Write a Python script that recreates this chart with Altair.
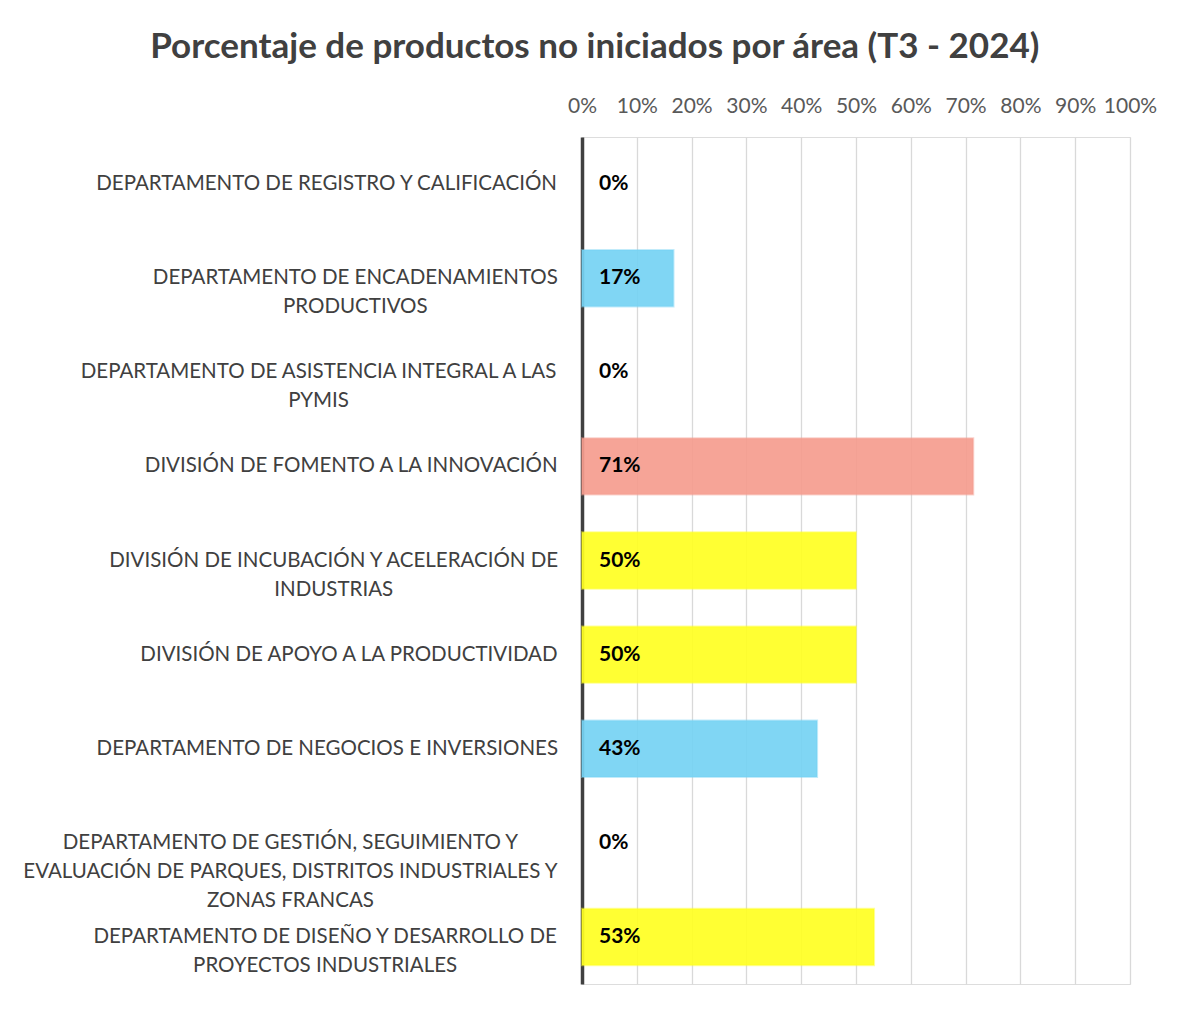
import glob
import os
import struct
import subprocess

import altair as alt
import pandas as pd

# ---- data ----
areas = [
    "DEPARTAMENTO DE REGISTRO Y CALIFICACIÓN",
    "DEPARTAMENTO DE ENCADENAMIENTOS PRODUCTIVOS",
    "DEPARTAMENTO DE ASISTENCIA INTEGRAL A LAS PYMIS",
    "DIVISIÓN DE FOMENTO A LA INNOVACIÓN",
    "DIVISIÓN DE INCUBACIÓN Y ACELERACIÓN DE INDUSTRIAS",
    "DIVISIÓN DE APOYO A LA PRODUCTIVIDAD",
    "DEPARTAMENTO DE NEGOCIOS E INVERSIONES",
    "DEPARTAMENTO DE GESTIÓN, SEGUIMIENTO Y EVALUACIÓN DE PARQUES, DISTRITOS INDUSTRIALES Y ZONAS FRANCAS",
    "DEPARTAMENTO DE DISEÑO Y DESARROLLO DE PROYECTOS INDUSTRIALES",
]
etiquetas = [
    ["DEPARTAMENTO DE REGISTRO Y CALIFICACIÓN"],
    ["DEPARTAMENTO DE ENCADENAMIENTOS", "PRODUCTIVOS"],
    ["DEPARTAMENTO DE ASISTENCIA INTEGRAL A LAS", "PYMIS"],
    ["DIVISIÓN DE FOMENTO A LA INNOVACIÓN"],
    ["DIVISIÓN DE INCUBACIÓN Y ACELERACIÓN DE", "INDUSTRIAS"],
    ["DIVISIÓN DE APOYO A LA PRODUCTIVIDAD"],
    ["DEPARTAMENTO DE NEGOCIOS E INVERSIONES"],
    ["DEPARTAMENTO DE GESTIÓN, SEGUIMIENTO Y",
     "EVALUACIÓN DE PARQUES, DISTRITOS INDUSTRIALES Y",
     "ZONAS FRANCAS"],
    ["DEPARTAMENTO DE DISEÑO Y DESARROLLO DE", "PROYECTOS INDUSTRIALES"],
]
valores = [0.0, 0.167, 0.0, 0.714, 0.50, 0.50, 0.429, 0.0, 0.533]
niveles = ["bajo", "bajo", "bajo", "alto", "medio", "medio", "bajo", "bajo", "medio"]

colores_nivel = {"bajo": "#75D3F3", "medio": "#FFFF22", "alto": "#F59C8E"}
ticks_x = [0, 0.1, 0.2, 0.3, 0.4, 0.5, 0.6, 0.7, 0.8, 0.9, 1.0]

# ---- layout / style ----
ANCHO = 548
ALTO = 847
FUENTE = "Lato"
FS_LABEL = 20.5
GAP = 22           # gap between category labels and the axis line


# ---- text measurement (so that multi-line labels can be centred as a block
#      and right-aligned against the axis, like the original) ----
def _parse_font(path):
    data = open(path, "rb").read()
    num_tables = struct.unpack(">H", data[4:6])[0]
    tables = {}
    for i in range(num_tables):
        off = 12 + 16 * i
        tag = data[off:off + 4].decode("latin1")
        _, toff, tlen = struct.unpack(">III", data[off + 4:off + 16])
        tables[tag] = toff
    head = tables["head"]
    upem = struct.unpack(">H", data[head + 18:head + 20])[0]
    hhea = tables["hhea"]
    nhm = struct.unpack(">H", data[hhea + 34:hhea + 36])[0]
    hmtx = tables["hmtx"]
    adv = [struct.unpack(">H", data[hmtx + 4 * i:hmtx + 4 * i + 2])[0] for i in range(nhm)]
    cmap = tables["cmap"]
    nsub = struct.unpack(">H", data[cmap + 2:cmap + 4])[0]
    sub = None
    for i in range(nsub):
        pid, eid, soff = struct.unpack(">HHI", data[cmap + 4 + 8 * i:cmap + 12 + 8 * i])
        fmt = struct.unpack(">H", data[cmap + soff:cmap + soff + 2])[0]
        if fmt == 4 and pid in (0, 3):
            sub = cmap + soff
            break
    seg2 = struct.unpack(">H", data[sub + 6:sub + 8])[0]
    seg = seg2 // 2
    ends = struct.unpack(">%dH" % seg, data[sub + 14:sub + 14 + seg2])
    so = sub + 16 + seg2
    starts = struct.unpack(">%dH" % seg, data[so:so + seg2])
    do = so + seg2
    deltas = struct.unpack(">%dh" % seg, data[do:do + seg2])
    ro = do + seg2
    ros = struct.unpack(">%dH" % seg, data[ro:ro + seg2])

    def glyph(ch):
        code = ord(ch)
        for i in range(seg):
            if ends[i] >= code:
                if starts[i] > code:
                    return 0
                if ros[i] == 0:
                    return (code + deltas[i]) & 0xFFFF
                addr = ro + 2 * i + ros[i] + 2 * (code - starts[i])
                g = struct.unpack(">H", data[addr:addr + 2])[0]
                return (g + deltas[i]) & 0xFFFF if g else 0
        return 0

    def width(s):
        return sum(adv[min(glyph(c), nhm - 1)] for c in s) / upem

    width("A")
    return width


def _font_width_fn():
    candidates = []
    try:
        out = subprocess.run(["fc-match", "-f", "%{file}", "Lato:style=Regular"],
                             capture_output=True, text=True, timeout=5).stdout.strip()
        if out and "lato" in out.lower():
            candidates.append(out)
    except Exception:
        pass
    for pat in ["/usr/share/fonts/**/Lato-Regular.*", "/usr/local/share/fonts/**/Lato-Regular.*",
                os.path.expanduser("~/.fonts/**/Lato-Regular.*"),
                os.path.expanduser("~/.local/share/fonts/**/Lato-Regular.*"),
                "/usr/share/fonts/**/Lato*Regular*.*"]:
        candidates += glob.glob(pat, recursive=True)
    for p in candidates:
        try:
            return _parse_font(p)
        except Exception:
            continue
    return lambda s: 0.615 * len(s)


_w = _font_width_fn()

df = pd.DataFrame({
    "area": areas,
    "valor": valores,
    "color": [colores_nivel[n] for n in niveles],
    "lineas": etiquetas,
    "ancho_em": [max(_w(l) for l in ls) for ls in etiquetas],
})

x_scale = alt.Scale(domain=[0, 1], nice=False)
y_scale = alt.Scale(paddingInner=0.4, paddingOuter=0.2)

base = alt.Chart(df)

bars = base.transform_filter("datum.valor > 0").mark_bar(
    fillOpacity=0.92, strokeOpacity=0.45, strokeWidth=2).encode(
    x=alt.X("valor:Q", scale=x_scale,
            axis=alt.Axis(orient="top", format=".0%", values=ticks_x, labelOverlap=False,
                          labelFlush=False, labelBound=False,
                          labelFont=FUENTE, labelFontSize=21, labelColor="#595959",
                          labelPadding=21, domain=False, ticks=False,
                          grid=True, gridColor="#D9D9D9", gridWidth=1.3, title=None)),
    y=alt.Y("area:N", sort=areas, scale=y_scale,
            axis=alt.Axis(labels=False, ticks=False, domain=True, domainColor="#404040",
                          domainWidth=3.5, grid=False, title=None)),
    fill=alt.Fill("color:N", scale=None),
    stroke=alt.Stroke("color:N", scale=None),
)

valores_txt = base.mark_text(align="left", baseline="middle", dx=17, font=FUENTE,
                             fontSize=21, fontWeight="bold", color="#000000").encode(
    x=alt.datum(0),
    y=alt.Y("area:N", sort=areas),
    text=alt.Text("valor:Q", format=".0%"),
)

labels = base.transform_calculate(
    lx=f"-({GAP} + {FS_LABEL} * datum.ancho_em / 2) / {ANCHO}"
).mark_text(align="center", baseline="middle", font=FUENTE, fontSize=FS_LABEL,
            lineHeight=29, color="#404040").encode(
    x=alt.X("lx:Q"),
    y=alt.Y("area:N", sort=areas),
    text="lineas",
)

chart = alt.layer(bars, valores_txt, labels).properties(
    width=ANCHO, height=ALTO,
    title=alt.TitleParams("Porcentaje de productos no iniciados por área (T3 - 2024)",
                          font=FUENTE, fontSize=35, fontWeight="bold", color="#404040",
                          anchor="middle", frame="bounds", offset=30, dx=5),
    padding={"left": 14, "top": 22, "right": 10, "bottom": 10},
).configure_view(stroke=None).configure(background="#FFFFFF")

chart.save("out.html", embed_options={"renderer": "svg", "actions": False})
